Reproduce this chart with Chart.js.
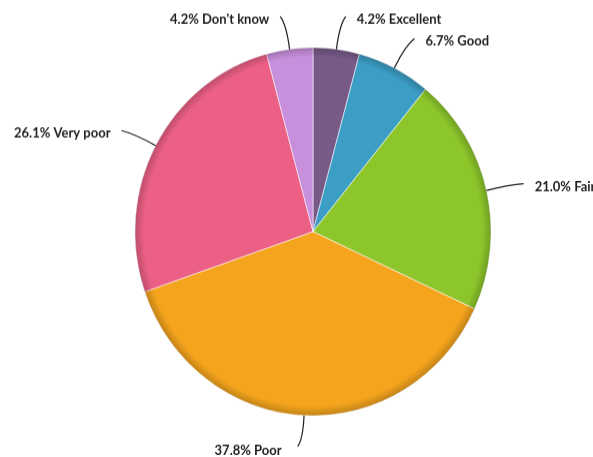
<!DOCTYPE html>
<html>
<head>
<meta charset="utf-8">
<script src="https://cdn.jsdelivr.net/npm/chart.js@4/dist/chart.umd.min.js"></script>
<style>
  html, body { margin: 0; padding: 0; background: #fff; overflow: hidden; width: 593px; height: 457px; }
  #wrap { width: 593px; height: 442px; transform: scaleY(1.034); transform-origin: 0 0; }
</style>
</head>
<body>
<div id="wrap"><canvas id="pie" width="593" height="442"></canvas></div>
<script>
const labels = ['Excellent', 'Good', 'Fair', 'Poor', 'Very poor', "Don't know"];
const values = [4.2, 6.7, 21.0, 37.8, 26.1, 4.2];
const colors = ['#785a89', '#3c9ec5', '#8dc62b', '#f4a41d', '#ec6085', '#c890dc'];

// rim shading + curved leader lines with labels
const calloutPlugin = {
  id: 'callouts',
  afterDatasetsDraw(chart) {
    const ctx = chart.ctx;
    const arcs = chart.getDatasetMeta(0).data;
    if (!arcs.length) return;
    const cx = arcs[0].x;
    const cy = arcs[0].y;
    const r = arcs[0].outerRadius;

    ctx.save();
    const g = ctx.createRadialGradient(cx, cy, r - 9, cx, cy, r);
    g.addColorStop(0, 'rgba(0,0,0,0)');
    g.addColorStop(1, 'rgba(0,0,0,0.2)');
    ctx.fillStyle = g;
    ctx.beginPath();
    ctx.arc(cx, cy, r, 0, Math.PI * 2);
    ctx.arc(cx, cy, r - 9, 0, Math.PI * 2, true);
    ctx.fill();

    ctx.font = 'bold 13px Lato';
    ctx.fillStyle = '#1e1e1e';
    ctx.strokeStyle = '#1e1e1e';
    ctx.lineWidth = 1.2;
    ctx.textBaseline = 'middle';
    arcs.forEach((arc, i) => {
      const mid = (arc.startAngle + arc.endAngle) / 2;
      const onRight = Math.cos(mid) > 0;
      const dir = onRight ? 1 : -1;
      const bottom = Math.sin(mid) > 0.95;
      const x0 = cx + Math.cos(mid) * r;
      const y0 = cy + Math.sin(mid) * r;
      const c1x = cx + Math.cos(mid) * (r + 24);
      const c1y = cy + Math.sin(mid) * (r + 24);
      const len = bottom ? r + 29 : r + 33;
      const x1 = cx + Math.cos(mid) * len + dir * 5;
      const y1 = cy + Math.sin(mid) * len + 1;
      ctx.beginPath();
      ctx.moveTo(x0, y0);
      ctx.quadraticCurveTo(c1x, c1y, x1, y1);
      ctx.stroke();
      const txt = values[i].toFixed(1) + '% ' + labels[i];
      ctx.textAlign = onRight ? 'left' : 'right';
      ctx.fillText(txt, x1 + dir * (bottom ? 16 : 11), y1 + (bottom ? 4 : 3));
    });
    ctx.restore();
  }
};

new Chart(document.getElementById('pie'), {
  type: 'pie',
  data: {
    labels: labels,
    datasets: [{
      data: values,
      backgroundColor: colors,
      borderColor: 'rgba(255,255,255,0.55)',
      borderWidth: 1,
      hoverOffset: 0
    }]
  },
  options: {
    responsive: false,
    animation: false,
    radius: 178,
    layout: { padding: { left: 135, right: 102, top: 46, bottom: 40 } },
    plugins: {
      legend: { display: false },
      tooltip: { enabled: false }
    }
  },
  plugins: [calloutPlugin]
});
</script>
</body>
</html>
